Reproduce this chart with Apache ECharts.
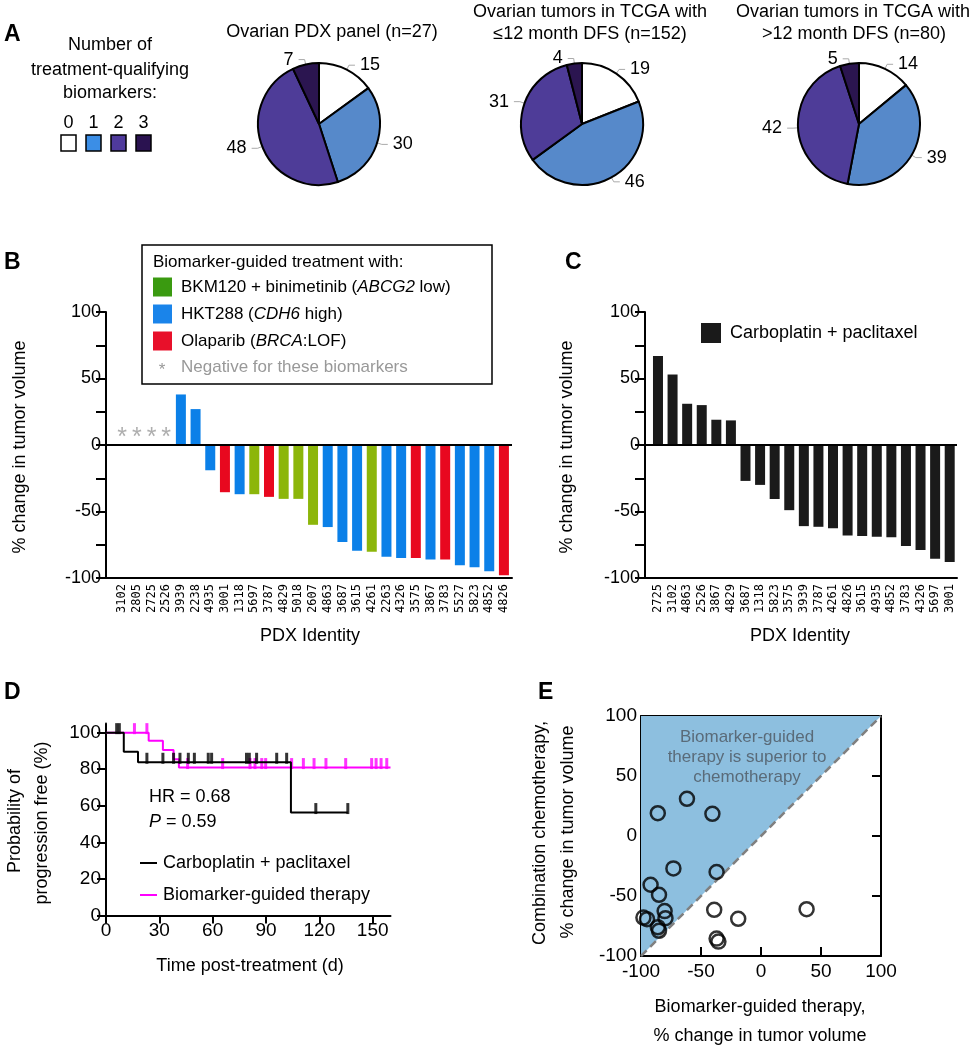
<!DOCTYPE html>
<html><head><meta charset="utf-8">
<script src="https://cdn.jsdelivr.net/npm/echarts@6/dist/echarts.min.js"></script>
<style>html,body{margin:0;padding:0;background:#fff}#c{width:978px;height:1050px}</style>
</head><body><div id="c"></div>
<script>
// ---------------- DATA ----------------
// Panel A: percentage of tumours with 0/1/2/3 treatment-qualifying biomarkers
const biomarkerCounts = ['0', '1', '2', '3'];
const piePdxPanel = [15, 30, 48, 7];
const pieShortDfs = [19, 46, 31, 4];
const pieLongDfs = [14, 39, 42, 5];

// Panel B: biomarker-guided treatment, % change in tumour volume
const guidedCats = ['3102','2805','2725','2526','3939','2238','4935','3001','1318','5697','3787','4829','5018','2607','4863','3687','3615','4261','2263','4326','3575','3867','3783','5527','5823','4852','4826'];
const guidedValues = [null,null,null,null,38,27,-19,-35.5,-37,-37,-39,-40.5,-40.5,-60,-61.7,-73,-79.6,-80.3,-84,-85,-85,-86,-86,-90.5,-92,-95,-98];
const guidedDrug = [null,null,null,null,'HKT288','HKT288','HKT288','Olaparib','HKT288','BKM120','Olaparib','BKM120','BKM120','BKM120','HKT288','HKT288','HKT288','BKM120','HKT288','HKT288','Olaparib','HKT288','Olaparib','HKT288','HKT288','HKT288','Olaparib'];

// Panel C: carboplatin + paclitaxel
const chemoCats = ['2725','3102','4863','2526','3867','4829','3687','1318','5823','3575','3939','3787','4261','4826','3615','4935','4852','3783','4326','5697','3001'];
const chemoValues = [67,53,31,30,19,18.5,-27,-30,-40.6,-49,-61,-61.5,-62.6,-68,-68.5,-69,-69.3,-76,-79,-85.5,-88];

// Panel D: Kaplan-Meier
const kmChemoTime = [0, 10, 18, 104, 136];
const kmChemoSurv = [100, 89.5, 83.8, 56.3, 56.3];
const kmChemoCensor = [6, 7.5, 23, 32, 38, 41.6, 46.3, 49.7, 57.5, 59.4, 79, 80.6, 84.7, 96, 101.6, 118, 136];
const kmGuidedTime = [0, 24, 32, 38, 41, 160];
const kmGuidedSurv = [100, 95.5, 90.5, 85.5, 80.9, 80.9];
const kmGuidedCensor = [16, 23, 45.9, 65.6, 81, 83.8, 87.6, 89.8, 104.4, 111, 117, 123.7, 134.8, 149.4, 151.9, 154.7, 157.9];

// Tick labels
const pctTicks = [-100, -50, 0, 50, 100];
const innerTicks = [-50, 0, 50];
const dayTicks = [0, 30, 60, 90, 120, 150];
const probTicks = [0, 20, 40, 60, 80, 100];

// ---------------- STYLES ----------------
const F = 'Liberation Sans, Arial, Helvetica, sans-serif';
const MONO = 'DejaVu Sans Mono, monospace';
const pieColors = ['#ffffff', '#5689ca', '#4e3c98', '#2b1550'];
const legendColorsA = ['#ffffff', '#3b8ee6', '#4f3a9c', '#2a1250'];
const drugColors = { BKM120: '#8cb60a', HKT288: '#0b80e8', Olaparib: '#e8081f' };
const drugLegendColors = { BKM120: '#3a9a10', HKT288: '#1a84ea', Olaparib: '#e8102a' };
const MAG = '#ff00ff';

const chart = echarts.init(document.getElementById('c'), null, { renderer: 'canvas', width: 978, height: 1050 });

function survAt(times, surv, t) {
  let s = surv[0];
  for (let i = 0; i < times.length; i++) if (times[i] <= t) s = surv[i];
  return s;
}

function T(text, x, y, o) {
  o = o || {};
  return {
    type: 'text', x: x, y: y, rotation: o.rot || 0, silent: true, z: 50,
    style: {
      text: text, fill: o.fill || '#000', fontSize: o.size || 18, fontFamily: F,
      fontWeight: o.bold ? 'bold' : 'normal', align: o.align || 'center',
      verticalAlign: 'middle', rich: o.rich
    }
  };
}

const axisLine2 = { show: true, onZero: false, lineStyle: { color: '#000', width: 2 } };

const guidedIdx = guidedCats.map((c, i) => i);
const chemoIdx = chemoCats.map((c, i) => i);

const guidedBarData = [];
const guidedStarData = [];
guidedValues.forEach((v, i) => {
  if (v === null) guidedStarData.push([i, 0]);
  else guidedBarData.push({ value: [i, v], itemStyle: { color: drugColors[guidedDrug[i]] } });
});
const chemoBarData = chemoValues.map((v, i) => [i, v]);

// Panel E: pairs of matching PDX identities in B and C
const scatterE = [];
chemoCats.forEach((c, j) => {
  const i = guidedCats.indexOf(c);
  if (i >= 0 && guidedValues[i] !== null) scatterE.push([guidedValues[i], chemoValues[j]]);
});

const zeroLine = {
  silent: true, symbol: 'none', label: { show: false },
  lineStyle: { color: '#000', width: 2, type: 'solid' }, data: [{ yAxis: 0 }]
};

function catAxis(gi, min, max, cats, idx) {
  return {
    gridIndex: gi, type: 'value', min: min, max: max, position: 'bottom',
    axisLine: axisLine2, axisTick: { show: false }, splitLine: { show: false },
    axisLabel: {
      customValues: idx, formatter: v => cats[Math.round(v)] || '', rotate: 90,
      fontFamily: MONO, fontSize: 12, color: '#000', margin: 6
    }
  };
}
function pctYAxis(gi) {
  return {
    gridIndex: gi, type: 'value', min: -100, max: 100, interval: 25,
    axisLine: axisLine2, splitLine: { show: false },
    axisTick: { show: true, length: 10, lineStyle: { color: '#000', width: 2 } },
    axisLabel: { formatter: v => (v % 50 === 0 ? String(v) : ''), fontSize: 18, fontFamily: F, color: '#000', margin: 5 }
  };
}

function pie(center, data) {
  return {
    type: 'pie', center: center, radius: 61, startAngle: 90, clockwise: true, animation: false,
    avoidLabelOverlap: true,
    itemStyle: { borderColor: '#000', borderWidth: 2 },
    label: { show: true, position: 'outside', formatter: '{c}', fontSize: 18, fontFamily: F, color: '#000' },
    labelLine: { show: true, length: 5, length2: 6, lineStyle: { color: '#aaa', width: 1 } },
    data: data.map((v, i) => ({ value: v, name: biomarkerCounts[i], itemStyle: { color: pieColors[i] } }))
  };
}

const graphics = [];
graphics.push(T('A', 4, 35, { bold: true, size: 23, align: 'left' }));
graphics.push(T('B', 4, 263, { bold: true, size: 23, align: 'left' }));
graphics.push(T('C', 565, 263, { bold: true, size: 23, align: 'left' }));
graphics.push(T('D', 4, 693, { bold: true, size: 23, align: 'left' }));
graphics.push(T('E', 538, 693, { bold: true, size: 23, align: 'left' }));

graphics.push(T('Number of', 110, 45));
graphics.push(T('treatment-qualifying', 110, 70));
graphics.push(T('biomarkers:', 110, 93));
const sqX = [61, 86, 111, 136];
biomarkerCounts.forEach((c, i) => {
  graphics.push(T(c, sqX[i] + 7.5, 123));
  graphics.push({ type: 'rect', shape: { x: sqX[i], y: 135, width: 15, height: 16 }, style: { fill: legendColorsA[i], stroke: '#000', lineWidth: 1.5 }, z: 50 });
});
graphics.push(T('Ovarian PDX panel (n=27)', 332, 32));
graphics.push(T('Ovarian tumors in TCGA with', 590, 12));
graphics.push(T('\u226412 month DFS (n=152)', 590, 34));
graphics.push(T('Ovarian tumors in TCGA with', 853, 12));
graphics.push(T('>12 month DFS (n=80)', 854, 34));

graphics.push({ type: 'rect', shape: { x: 142, y: 245, width: 350, height: 139 }, style: { fill: '#fff', stroke: '#000', lineWidth: 1.5 }, z: 40 });
graphics.push(T('Biomarker-guided treatment with:', 153, 262, { size: 17, align: 'left' }));
const richI = { i: { fontStyle: 'italic', fontSize: 17, fontFamily: F, fill: '#000' }, n: { fontSize: 17, fontFamily: F, fill: '#000' } };
const legRows = [
  ['BKM120', '{n|BKM120 + binimetinib (}{i|ABCG2}{n| low)}', 287],
  ['HKT288', '{n|HKT288 (}{i|CDH6}{n| high)}', 314],
  ['Olaparib', '{n|Olaparib (}{i|BRCA}{n|:LOF)}', 341]
];
legRows.forEach(r => {
  graphics.push({ type: 'rect', shape: { x: 153, y: r[2] - 9.5, width: 19, height: 19 }, style: { fill: drugLegendColors[r[0]] }, z: 50 });
  graphics.push(T(r[1], 181, r[2], { size: 17, align: 'left', rich: richI }));
});
graphics.push(T('*', 162, 370, { size: 17, fill: '#999' }));
graphics.push(T('Negative for these biomarkers', 181, 367, { size: 17, align: 'left', fill: '#999' }));

graphics.push(T('% change in tumor volume', 20, 447, { rot: Math.PI / 2 }));
graphics.push(T('PDX Identity', 310, 636));
graphics.push(T('% change in tumor volume', 567, 447, { rot: Math.PI / 2 }));
graphics.push(T('PDX Identity', 800, 636));
graphics.push({ type: 'rect', shape: { x: 701, y: 323, width: 20, height: 20 }, style: { fill: '#1a1a1a' }, z: 50 });
graphics.push(T('Carboplatin + paclitaxel', 730, 333, { align: 'left' }));

graphics.push(T('Probability of', 15, 821, { rot: Math.PI / 2 }));
graphics.push(T('progression free (%)', 42, 823, { rot: Math.PI / 2 }));
graphics.push(T('Time post-treatment (d)', 250, 966));
graphics.push(T('HR = 0.68', 149, 797, { align: 'left' }));
graphics.push(T('{i|P}{n| = 0.59}', 149, 822, { align: 'left', rich: { i: { fontStyle: 'italic', fontSize: 18, fontFamily: F, fill: '#000' }, n: { fontSize: 18, fontFamily: F, fill: '#000' } } }));
graphics.push({ type: 'line', shape: { x1: 140, y1: 863, x2: 157, y2: 863 }, style: { stroke: '#000', lineWidth: 2 }, z: 50 });
graphics.push(T('Carboplatin + paclitaxel', 163, 863, { align: 'left' }));
graphics.push({ type: 'line', shape: { x1: 140, y1: 895, x2: 157, y2: 895 }, style: { stroke: MAG, lineWidth: 2 }, z: 50 });
graphics.push(T('Biomarker-guided therapy', 163, 895, { align: 'left' }));

graphics.push(T('Biomarker-guided', 747, 737, { size: 17, fill: '#5a6b79' }));
graphics.push(T('therapy is superior to', 747, 757, { size: 17, fill: '#5a6b79' }));
graphics.push(T('chemotherapy', 747, 777, { size: 17, fill: '#5a6b79' }));
graphics.push(T('Combination chemotherapy,', 540, 833, { rot: Math.PI / 2 }));
graphics.push(T('% change in tumor volume', 568, 832, { rot: Math.PI / 2 }));
graphics.push(T('Biomarker-guided therapy,', 760, 1007));
graphics.push(T('% change in tumor volume', 760, 1036));

const option = {
  animation: false,
  backgroundColor: '#fff',
  textStyle: { fontFamily: F },
  grid: [
    { left: 106, top: 312, width: 406, height: 266 },
    { left: 645, top: 312, width: 312, height: 266 },
    { left: 106, top: 723.5, width: 284.5, height: 192 },
    { left: 641, top: 716, width: 240, height: 240 }
  ],
  xAxis: [
    catAxis(0, -1.1, 26.55, guidedCats, guidedIdx),
    catAxis(1, -0.89, 20.5, chemoCats, chemoIdx),
    {
      gridIndex: 2, type: 'value', min: 0, max: 160, axisLine: axisLine2, splitLine: { show: false },
      axisTick: { show: true, customValues: dayTicks, length: 8, lineStyle: { color: '#000', width: 2 } },
      axisLabel: { customValues: dayTicks, fontSize: 19, fontFamily: F, color: '#000', margin: 6 }
    },
    {
      gridIndex: 3, type: 'value', min: -100, max: 100, position: 'bottom', axisLine: axisLine2, splitLine: { show: false },
      axisTick: { show: true, inside: true, customValues: innerTicks, length: 9, lineStyle: { color: '#000', width: 2 } },
      axisLabel: { customValues: pctTicks, fontSize: 19, fontFamily: F, color: '#000', margin: 6 }
    },
    {
      gridIndex: 3, type: 'value', min: -100, max: 100, position: 'top', axisLine: axisLine2, splitLine: { show: false },
      axisTick: { show: true, inside: true, customValues: innerTicks, length: 9, lineStyle: { color: '#000', width: 2 } },
      axisLabel: { show: false }
    }
  ],
  yAxis: [
    pctYAxis(0),
    pctYAxis(1),
    {
      gridIndex: 2, type: 'value', min: 0, max: 105, axisLine: axisLine2, splitLine: { show: false },
      axisTick: { show: true, customValues: probTicks, length: 9, lineStyle: { color: '#000', width: 2 } },
      axisLabel: { customValues: probTicks, fontSize: 19, fontFamily: F, color: '#000', margin: 5 }
    },
    {
      gridIndex: 3, type: 'value', min: -100, max: 100, position: 'left', axisLine: axisLine2, splitLine: { show: false },
      axisTick: { show: true, inside: true, customValues: innerTicks, length: 9, lineStyle: { color: '#000', width: 2 } },
      axisLabel: { customValues: pctTicks, fontSize: 19, fontFamily: F, color: '#000', margin: 4 }
    },
    {
      gridIndex: 3, type: 'value', min: -100, max: 100, position: 'right', axisLine: axisLine2, splitLine: { show: false },
      axisTick: { show: true, inside: true, customValues: innerTicks, length: 9, lineStyle: { color: '#000', width: 2 } },
      axisLabel: { show: false }
    }
  ],
  series: [
    pie([319, 124], piePdxPanel),
    pie([582, 124], pieShortDfs),
    pie([859, 124], pieLongDfs),
    {
      type: 'bar', xAxisIndex: 0, yAxisIndex: 0, barWidth: 10, data: guidedBarData, markLine: zeroLine
    },
    {
      type: 'scatter', xAxisIndex: 0, yAxisIndex: 0, symbolSize: 2, z: 6,
      itemStyle: { color: 'rgba(0,0,0,0)' },
      label: { show: true, position: 'top', distance: -7, formatter: '*', fontSize: 25, color: '#9a9a9a', fontFamily: F },
      data: guidedStarData
    },
    {
      type: 'bar', xAxisIndex: 1, yAxisIndex: 1, barWidth: 10, itemStyle: { color: '#1a1a1a' }, data: chemoBarData, markLine: zeroLine
    },
    {
      type: 'line', xAxisIndex: 2, yAxisIndex: 2, step: 'end', showSymbol: false, z: 3,
      lineStyle: { color: MAG, width: 2 }, data: kmGuidedTime.map((t, i) => [t, kmGuidedSurv[i]])
    },
    {
      type: 'scatter', xAxisIndex: 2, yAxisIndex: 2, symbol: 'rect', symbolSize: [3, 11], symbolOffset: [0, -4], z: 3,
      itemStyle: { color: MAG }, data: kmGuidedCensor.map(t => [t, survAt(kmGuidedTime, kmGuidedSurv, t)])
    },
    {
      type: 'line', xAxisIndex: 2, yAxisIndex: 2, step: 'end', showSymbol: false, z: 4,
      lineStyle: { color: '#000', width: 2 }, data: kmChemoTime.map((t, i) => [t, kmChemoSurv[i]])
    },
    {
      type: 'scatter', xAxisIndex: 2, yAxisIndex: 2, symbol: 'rect', symbolSize: [3, 11], symbolOffset: [0, -4], z: 4,
      itemStyle: { color: '#000' }, data: kmChemoCensor.map(t => [t, survAt(kmChemoTime, kmChemoSurv, t)])
    },
    {
      type: 'custom', xAxisIndex: 3, yAxisIndex: 3, z: 1, silent: true,
      data: [[-100, -100]],
      renderItem: function (params, api) {
        return {
          type: 'polygon',
          shape: { points: [api.coord([-100, -100]), api.coord([-100, 100]), api.coord([100, 100])] },
          style: { fill: '#8dbfdf' }
        };
      }
    },
    {
      type: 'line', xAxisIndex: 3, yAxisIndex: 3, showSymbol: false, z: 2,
      lineStyle: { color: '#808080', width: 2.5, type: [8, 5] }, data: [[-100, -100], [100, 100]]
    },
    {
      type: 'scatter', xAxisIndex: 3, yAxisIndex: 3, symbol: 'circle', symbolSize: 14, z: 5,
      itemStyle: { color: 'rgba(0,0,0,0)', borderColor: '#000', borderWidth: 2.5 }, data: scatterE
    }
  ],
  graphic: graphics
};
chart.setOption(option);
</script>
</body></html>
